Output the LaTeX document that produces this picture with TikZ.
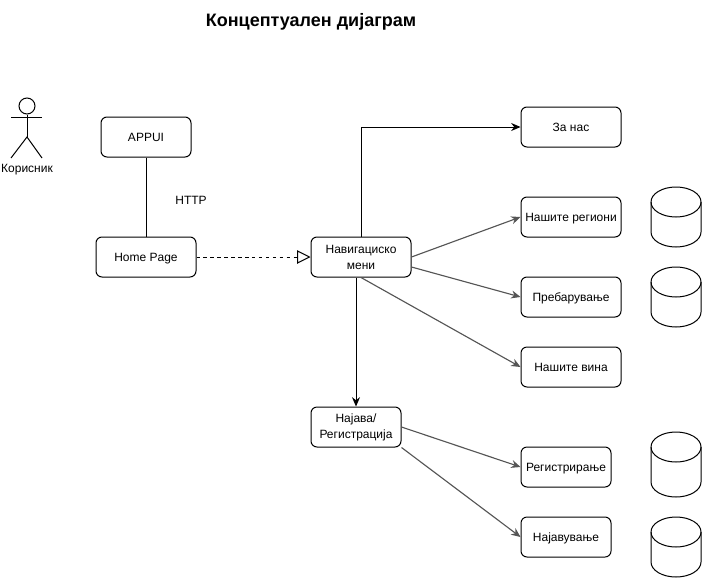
\documentclass[tikz,border=0pt]{standalone}
\usepackage{fontspec}
\setmainfont{Liberation Sans}
\usetikzlibrary{arrows.meta}
\definecolor{linegray}{HTML}{555555}

\tikzset{
  box/.style={draw, rounded corners=4.5pt, minimum width=75pt, minimum height=30pt, inner sep=0pt, align=center, font=\fontsize{9}{12}\selectfont},
  smallbox/.style={box, minimum width=67.5pt},
  oneline/.style={text height=8.5pt, text depth=2pt},
  label/.style={font=\fontsize{9}{12}\selectfont, inner sep=0pt},
  link/.style={-{Stealth[length=7pt, width=6pt]}},
  graylink/.style={link, draw=linegray, line width=0.85pt},
  pics/db/.style={code={
    \draw (-25, 15) arc[start angle=180, end angle=0, x radius=18.75pt, y radius=11.25pt]
      -- (25, {#1-15}) arc[start angle=0, end angle=-180, x radius=18.75pt, y radius=11.25pt] -- cycle;
    \draw (-25, 15) arc[start angle=180, end angle=360, x radius=18.75pt, y radius=11.25pt];
  }}
}

\begin{document}
\begin{tikzpicture}[x=0.75pt, y=-0.75pt, line width=0.75pt]
\useasboundingbox (0, 0) rectangle (702, 578);

\node[font=\bfseries\fontsize{13.5}{16}\selectfont, inner sep=0pt] (title) at (311, 21.5) {Концептуален дијаграм};

% actor
\node[draw, circle, minimum size=12pt, inner sep=0pt] (head) at (27, 106) {};
\coordinate (hip) at (27, 137);
\coordinate (armL) at (11, 117);
\coordinate (armR) at (42, 117);
\coordinate (legL) at (11, 158);
\coordinate (legR) at (42, 158);
\draw (head.south) -- (hip);
\draw (armL) -- (armR);
\draw (legL) -- (hip) -- (legR);
\node[label] (user) at (27, 170) {Корисник};

% boxes
\node[smallbox, oneline] (appui) at (146, 137) {APPUI};
\node[box, oneline] (home) at (146, 257) {Home Page};
\node[box] (nav) at (361, 257) {Навигациско\\мени};
\node[box, oneline] (about) at (571, 127) {За нас};
\node[box, oneline] (regions) at (571, 217) {Нашите региони};
\node[box, oneline] (search) at (571, 297) {Пребарување};
\node[box, oneline] (wines) at (571, 367) {Нашите вина};
\node[smallbox] (auth) at (356, 427) {Најава/\\Регистрација};
\node[smallbox, oneline] (register) at (566, 467) {Регистрирање};
\node[smallbox, oneline] (login) at (566, 537) {Најавување};
\node[label] (http) at (191, 200) {HTTP};

% databases
\pic at (676, 187) {db=60};
\pic at (676, 267) {db=60};
\pic at (676, 432) {db=65};
\pic at (676, 517) {db=60};

% connectors
\draw (appui) -- (home);
\draw[dashed, dash pattern=on 2.6pt off 2.6pt, -{Triangle[open, length=10pt, width=10pt]}] (home) -- (nav);
\draw[link] (nav.north) |- (about);
\draw[graylink] (nav.east) -- (regions.west);
\draw[graylink] ([yshift=-7.5pt]nav.east) -- (search.west);
\draw[graylink] (nav.south) -- (wines.west);
\draw[link] (auth.north |- nav.south) -- (auth.north);
\draw[graylink] (auth.east) -- (register.west);
\draw[graylink] (auth.south east) -- (login.west);
\end{tikzpicture}
\end{document}
